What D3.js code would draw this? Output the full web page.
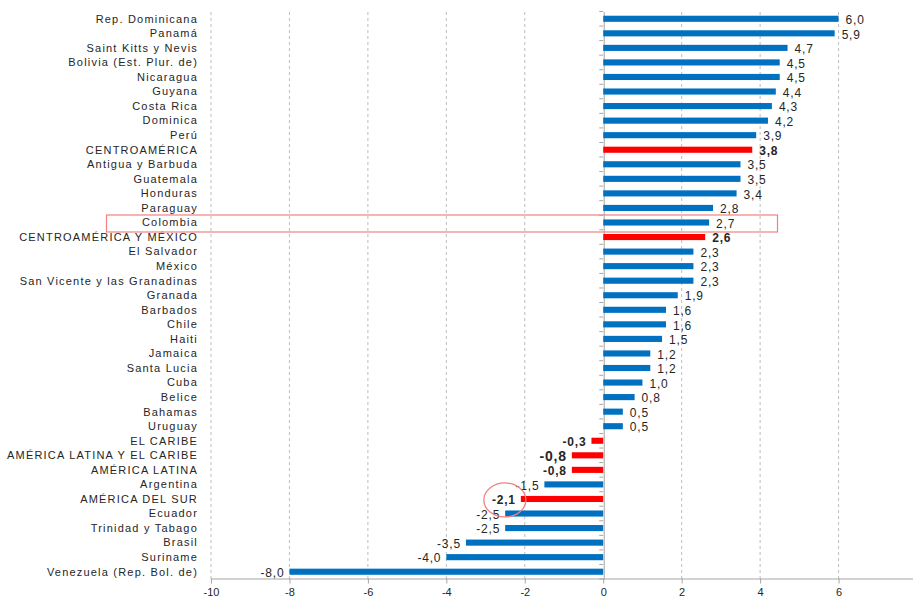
<!DOCTYPE html>
<html>
<head>
<meta charset="utf-8">
<script src="https://cdn.jsdelivr.net/npm/d3@7"></script>
<style>
  html, body { margin: 0; padding: 0; background: #fff; }
  svg { display: block; font-family: "Liberation Sans", Arial, sans-serif; }
</style>
</head>
<body>
<svg id="chart" width="913" height="605"></svg>
<script>
// Growth rates by country and region
const categories = [
  "Rep. Dominicana", "Panamá", "Saint Kitts y Nevis", "Bolivia (Est. Plur. de)",
  "Nicaragua", "Guyana", "Costa Rica", "Dominica", "Perú", "CENTROAMÉRICA",
  "Antigua y Barbuda", "Guatemala", "Honduras", "Paraguay", "Colombia",
  "CENTROAMÉRICA Y MÉXICO", "El Salvador", "México", "San Vicente y las Granadinas",
  "Granada", "Barbados", "Chile", "Haiti", "Jamaica", "Santa Lucia", "Cuba",
  "Belice", "Bahamas", "Uruguay", "EL CARIBE", "AMÉRICA LATINA Y EL CARIBE",
  "AMÉRICA LATINA", "Argentina", "AMÉRICA DEL SUR", "Ecuador", "Trinidad y Tabago",
  "Brasil", "Suriname", "Venezuela (Rep. Bol. de)"
];
const values = [
  6.0, 5.9, 4.7, 4.5, 4.5, 4.4, 4.3, 4.2, 3.9, 3.8,
  3.5, 3.5, 3.4, 2.8, 2.7, 2.6, 2.3, 2.3, 2.3, 1.9,
  1.6, 1.6, 1.5, 1.2, 1.2, 1.0, 0.8, 0.5, 0.5, -0.3,
  -0.8, -0.8, -1.5, -2.1, -2.5, -2.5, -3.5, -4.0, -8.0
];
// Regional aggregates drawn in red
const aggregates = [
  "CENTROAMÉRICA", "CENTROAMÉRICA Y MÉXICO", "EL CARIBE",
  "AMÉRICA LATINA Y EL CARIBE", "AMÉRICA LATINA", "AMÉRICA DEL SUR"
];
const xTicks = [-10, -8, -6, -4, -2, 0, 2, 4, 6, 8];
const boxedCategory = "Colombia";
const circledCategory = "AMÉRICA DEL SUR";
const emphasisCategory = "AMÉRICA LATINA Y EL CARIBE";

const rows = categories.map((c, i) => ({ name: c, value: values[i], agg: aggregates.includes(c) }));

const svg = d3.select("#chart");
const x = d3.scaleLinear().domain([-10, 8]).range([211, 917]);
const y = d3.scaleBand().domain(categories).range([11.5, 579]).paddingInner(0.58).paddingOuter(0.29);
const fmt = v => d3.format(".1f")(v).replace(".", ",").replace("−", "-");

const BLUE = "#0070C0", RED = "#FF0000";

// dashed vertical gridlines
svg.append("g").selectAll("line")
  .data(xTicks.filter(t => t !== 0))
  .join("line")
  .attr("x1", d => x(d)).attr("x2", d => x(d))
  .attr("y1", 12).attr("y2", 579)
  .attr("stroke", "#BDBDBD").attr("stroke-width", 1)
  .attr("stroke-dasharray", "3,3");

// bottom axis
const xAxis = d3.axisBottom(x).tickValues(xTicks).tickSize(5).tickSizeOuter(0).tickFormat(d3.format("d"));
const gx = svg.append("g").attr("transform", "translate(0,578.5)").call(xAxis);
gx.select(".domain").attr("stroke", "#A6A6A6");
gx.selectAll(".tick line").attr("stroke", "#A6A6A6");
gx.selectAll(".tick text").attr("font-size", 11).attr("fill", "#262626").attr("dy", "0.9em")
  .text(d => d3.format("d")(d).replace("−", "-"));

// zero axis with category tick marks on its left
const yAxis = d3.axisLeft(y).tickSize(0).tickFormat("");
const gy = svg.append("g").attr("transform", `translate(${x(0) + 0.5},0)`).call(yAxis);
gy.select(".domain").attr("stroke", "#A6A6A6");
gy.selectAll(".tick").remove();
const step = y.step();
const bounds = d3.range(categories.length + 1).map(i => y.range()[0] + i * step);
svg.append("g").selectAll("line").data(bounds).join("line")
  .attr("x1", x(0) - 4).attr("x2", x(0))
  .attr("y1", d => d).attr("y2", d => d)
  .attr("stroke", "#A6A6A6");

// bars
svg.append("g").selectAll("rect").data(rows).join("rect")
  .attr("x", d => x(Math.min(0, d.value)))
  .attr("y", d => y(d.name))
  .attr("width", d => Math.abs(x(d.value) - x(0)))
  .attr("height", y.bandwidth())
  .attr("fill", d => d.agg ? RED : BLUE);

// category labels
svg.append("g").selectAll("text").data(rows).join("text")
  .attr("x", 198)
  .attr("y", d => y(d.name) + y.bandwidth() / 2)
  .attr("dy", "0.35em")
  .attr("text-anchor", "end")
  .attr("font-size", 11)
  .attr("letter-spacing", 1.2)
  .attr("fill", "#262626")
  .text(d => d.name);

// value labels
svg.append("g").selectAll("text").data(rows).join("text")
  .attr("x", d => d.value >= 0 ? x(d.value) + 7 : x(d.value) - 5)
  .attr("y", d => y(d.name) + y.bandwidth() / 2 + 1)
  .attr("dy", "0.35em")
  .attr("text-anchor", d => d.value >= 0 ? "start" : "end")
  .attr("font-size", d => d.name === emphasisCategory ? 14 : 12)
  .attr("letter-spacing", 0.8)
  .attr("font-weight", d => d.agg ? "bold" : "normal")
  .attr("fill", "#262626")
  .text(d => fmt(d.value));

// highlight box around Colombia row
const by = y(boxedCategory) + y.bandwidth() / 2;
svg.append("rect")
  .attr("x", 106.5).attr("y", by - 7.5)
  .attr("width", 671).attr("height", 17)
  .attr("fill", "none").attr("stroke", "#F28080").attr("stroke-width", 1.2);

// circle around the South America value
const cv = values[categories.indexOf(circledCategory)];
svg.append("ellipse")
  .attr("cx", x(cv) - 16).attr("cy", y(circledCategory) + y.bandwidth() / 2 + 1)
  .attr("rx", 21).attr("ry", 17)
  .attr("fill", "none").attr("stroke", "#F28080").attr("stroke-width", 1.3);
</script>
</body>
</html>
